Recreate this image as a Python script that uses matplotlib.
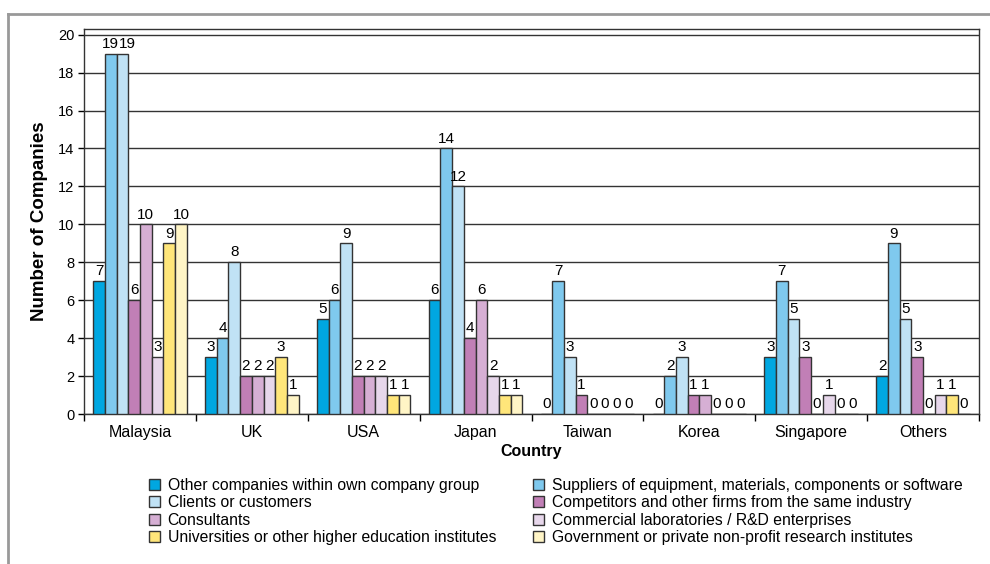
import numpy as np
import matplotlib.pyplot as plt
from matplotlib.lines import Line2D

plt.rcParams['font.family'] = ['Liberation Sans', 'DejaVu Sans']

countries = ['Malaysia', 'UK', 'USA', 'Japan', 'Taiwan', 'Korea', 'Singapore', 'Others']
series = ['Other companies within own company group',
          'Suppliers of equipment, materials, components or software',
          'Clients or customers',
          'Competitors and other firms from the same industry',
          'Consultants',
          'Commercial laboratories / R&D enterprises',
          'Universities or other higher education institutes',
          'Government or private non-profit research institutes']
own_group = [7, 3, 5, 6, 0, 0, 3, 2]
suppliers = [19, 4, 6, 14, 7, 2, 7, 9]
clients = [19, 8, 9, 12, 3, 3, 5, 5]
competitors = [6, 2, 2, 4, 1, 1, 3, 3]
consultants = [10, 2, 2, 6, 0, 1, 0, 0]
comm_labs = [3, 2, 2, 2, 0, 0, 1, 1]
universities = [9, 3, 1, 1, 0, 0, 0, 1]
government = [10, 1, 1, 1, 0, 0, 0, 0]
values = [own_group, suppliers, clients, competitors, consultants, comm_labs, universities, government]
colors = ['#00A7E1', '#7FC9EE', '#C0E2F5', '#C17FB6', '#D6AFD4', '#E7D7EB', '#FFE67A', '#FFF5C6']

fig = plt.figure(figsize=(9.9, 5.64), dpi=100)
ax = fig.add_axes([84/990, 1-414/564, (979-84)/990, (414-29)/564])

x = np.arange(len(countries))
w = 0.1046
bars = []
texts = []
for i, (vals, c, name) in enumerate(zip(values, colors, series)):
    b = ax.bar(x + (i - 3.5) * w, vals, w, color=c, edgecolor='#333333', linewidth=1, label=name, zorder=3)
    texts.append(ax.bar_label(b, padding=2, fontsize=11, zorder=4))
    bars.append(b)

ax.set_xlim(-0.5, 7.5)
ax.set_ylim(0, 20.3)
ax.set_yticks(range(0, 21, 2))
ax.tick_params(axis='y', length=4, width=1, labelsize=10.5, pad=3, direction='out')
ax.set_xticks(x)
ax.set_xticklabels(countries, fontsize=11.5)
ax.set_xticks(np.arange(-0.5, 8, 1), minor=True)
ax.tick_params(axis='x', which='major', length=0, pad=8)
ax.tick_params(axis='x', which='minor', length=5, width=1)
ax.yaxis.grid(True, color='#333333', linewidth=1, zorder=0)
for s in ax.spines.values():
    s.set_color('#333333')
    s.set_linewidth(1)

ax.set_ylabel('Number of Companies', fontsize=13.5, fontweight='bold', labelpad=7)
ax.set_xlabel('Country', fontsize=11.5, fontweight='bold', labelpad=3)

# nudge value labels sideways where neighbours in a group collide at the same height
fig.canvas.draw()
r = fig.canvas.get_renderer()
for j in range(len(countries)):
    prev = None
    for i in range(len(values)):
        t = texts[i][j]
        bb = t.get_window_extent(r)
        if prev is not None and bb.x0 < prev.x1 and bb.y0 < prev.y1 and bb.y1 > prev.y0:
            shift = prev.x1 - bb.x0
            xd, yd = t.xyann
            t.xyann = (xd + shift * 72 / fig.dpi, yd)
            bb = t.get_window_extent(r)
        prev = bb

order = [0, 2, 4, 6, 1, 3, 5, 7]
handles = [bars[i] for i in order]
labels = [series[i] for i in order]
fig.legend(handles, labels, loc='upper left', bbox_to_anchor=(141/990, 1-470/564), ncol=2,
           frameon=False, fontsize=11.3, handlelength=0.7, handleheight=0.7, handletextpad=0.5,
           columnspacing=2.35, labelspacing=0.15, borderpad=0)

fig.add_artist(Line2D([8/990, 1], [1-14/564, 1-14/564], color='#999999', linewidth=2))
fig.add_artist(Line2D([8/990, 8/990], [0, 1-14/564], color='#999999', linewidth=2))

fig.savefig('out.png', dpi=100)
